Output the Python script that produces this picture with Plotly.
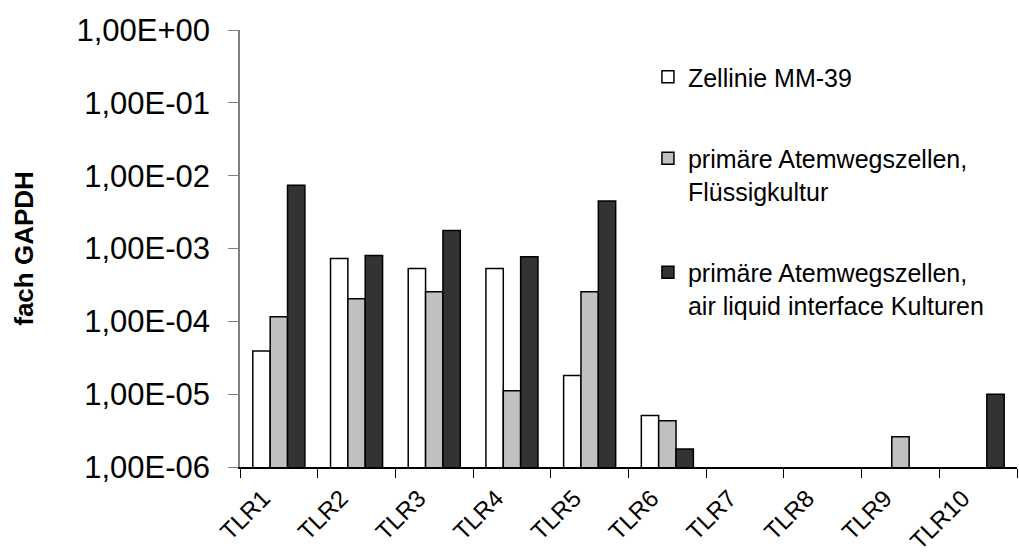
import plotly.graph_objects as go

# TLR expression relative to GAPDH (log scale)
categories = ["TLR1", "TLR2", "TLR3", "TLR4", "TLR5",
              "TLR6", "TLR7", "TLR8", "TLR9", "TLR10"]

series_names = [
    "Zellinie MM-39",
    "primäre Atemwegszellen,<br>Flüssigkultur",
    "primäre Atemwegszellen,<br>air liquid interface Kulturen",
]

mm39 = [3.9e-5, 7.3e-4, 5.3e-4, 5.3e-4, 1.8e-5, 5.1e-6, None, None, None, None]
fluessig = [1.16e-4, 2.04e-4, 2.54e-4, 1.11e-5, 2.54e-4, 4.3e-6, None, None, 2.6e-6, None]
ali = [7.4e-3, 8.0e-4, 1.76e-3, 7.7e-4, 4.5e-3, 1.76e-6, None, None, None, 1.0e-5]

y_tickvals = [1e0, 1e-1, 1e-2, 1e-3, 1e-4, 1e-5, 1e-6]
y_ticktext = ["1,00E+00", "1,00E-01", "1,00E-02", "1,00E-03",
              "1,00E-04", "1,00E-05", "1,00E-06"]

fills = ["#ffffff", "#c0c0c0", "#333333"]
FONT = "Liberation Sans, Arial, sans-serif"

x = list(range(len(categories)))
fig = go.Figure()
for i, (name, vals, col) in enumerate(zip(series_names, [mm39, fluessig, ali], fills)):
    fig.add_trace(go.Bar(
        x=x, y=vals, name=name, legendgroup=f"g{i}",
        marker=dict(color=col, line=dict(color="#000000", width=1.5)),
    ))

fig.update_layout(
    width=1019, height=560,
    margin=dict(l=240, r=2, t=30, b=93),
    paper_bgcolor="#ffffff", plot_bgcolor="#ffffff",
    barmode="group", bargap=0.33, bargroupgap=0,
    font=dict(family=FONT, color="#000000"),
    showlegend=True,
    legend=dict(
        x=0.525, y=0.945, xanchor="left", yanchor="top",
        font=dict(size=25, family=FONT, color="#000000"),
        traceorder="grouped", tracegroupgap=46, valign="top",
        bgcolor="rgba(0,0,0,0)",
    ),
)

fig.update_xaxes(
    automargin=False,
    range=[-0.5, len(categories) - 0.5],
    tickmode="array",
    tickvals=[v - 0.2 for v in x],
    ticktext=categories,
    tickangle=-45,
    ticks="", ticklen=0,
    ticklabelstandoff=6,
    tickfont=dict(size=24, family=FONT, color="#000000"),
    showline=True, linecolor="#000000", linewidth=1.5,
    showgrid=False, zeroline=False,
    minor=dict(tickmode="array",
               tickvals=[v - 0.5 for v in x] + [len(categories) - 0.5],
               ticks="outside", ticklen=9, tickcolor="#000000", tickwidth=1.2,
               showgrid=False),
)

fig.update_yaxes(
    automargin=False,
    type="log", range=[-6, 0],
    tickmode="array", tickvals=y_tickvals, ticktext=y_ticktext,
    ticks="outside", ticklen=10, tickcolor="#808080", tickwidth=1.2,
    ticklabelstandoff=12,
    tickfont=dict(size=31, family=FONT, color="#000000"),
    showline=True, linecolor="#808080", linewidth=1.5,
    showgrid=False, zeroline=False,
    title=dict(text="<b>fach GAPDH</b>", font=dict(size=26, family=FONT, color="#000000"),
               standoff=35),
)

fig.write_html("out.html")
